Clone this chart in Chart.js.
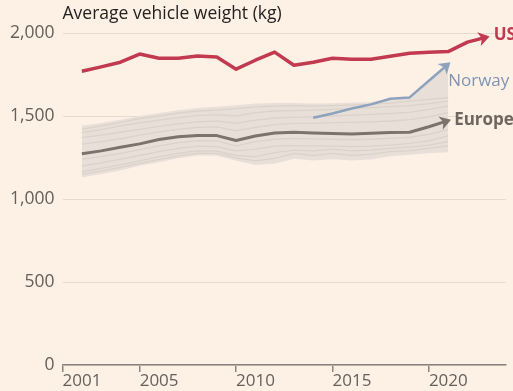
<!DOCTYPE html>
<html>
<head>
<meta charset="utf-8">
<script src="https://cdn.jsdelivr.net/npm/chart.js@4.4.1/dist/chart.umd.min.js"></script>
<style>
  html, body { margin: 0; padding: 0; background: #fdf1e6; }
  canvas { display: block; }
</style>
</head>
<body>
<canvas id="weightChart" width="513" height="391"></canvas>
<script>
// average vehicle weight, kg
const usYears = [2002, 2003, 2004, 2005, 2006, 2007, 2008, 2009, 2010, 2011, 2012,
                 2013, 2014, 2015, 2016, 2017, 2018, 2019, 2020, 2021, 2022, 2023];
const usWeight = [1770, 1796, 1824, 1873, 1848, 1848, 1861, 1855, 1782, 1836, 1885,
                  1806, 1824, 1848, 1842, 1842, 1860, 1878, 1884, 1888, 1945, 1975];

const euYears = [2002, 2003, 2004, 2005, 2006, 2007, 2008, 2009, 2010, 2011,
                 2012, 2013, 2014, 2015, 2016, 2017, 2018, 2019, 2020, 2021];
const europeWeight = [1272, 1290, 1312, 1332, 1358, 1375, 1382, 1382, 1352, 1380,
                      1398, 1402, 1397, 1394, 1392, 1396, 1400, 1402, 1435, 1472];

const norwayYears = [2014, 2015, 2016, 2017, 2018, 2019, 2020, 2021];
const norwayWeight = [1489, 1515, 1545, 1570, 1604, 1612, 1712, 1812];

// spread of individual European countries
const bandHigh = [1442, 1458, 1478, 1500, 1518, 1535, 1548, 1555, 1565, 1575,
                  1578, 1578, 1576, 1577, 1580, 1584, 1604, 1614, 1712, 1812];
const bandLow = [1129, 1150, 1172, 1200, 1222, 1245, 1262, 1260, 1230, 1205,
                 1212, 1242, 1232, 1240, 1232, 1238, 1258, 1266, 1275, 1281];
const countryLines = [
  [1420, 1440, 1462, 1485, 1500, 1518, 1530, 1535, 1545, 1555, 1560, 1562, 1560, 1562, 1566, 1570, 1578, 1590, 1600, 1610],
  [1400, 1418, 1440, 1458, 1475, 1490, 1502, 1508, 1500, 1520, 1530, 1532, 1535, 1540, 1545, 1550, 1556, 1562, 1575, 1590],
  [1370, 1385, 1402, 1420, 1438, 1452, 1465, 1470, 1455, 1475, 1488, 1492, 1495, 1500, 1505, 1510, 1515, 1522, 1540, 1560],
  [1330, 1345, 1362, 1385, 1405, 1420, 1432, 1435, 1410, 1432, 1448, 1455, 1455, 1460, 1462, 1465, 1470, 1478, 1495, 1520],
  [1240, 1255, 1275, 1298, 1320, 1340, 1352, 1350, 1320, 1345, 1360, 1365, 1362, 1360, 1358, 1360, 1365, 1372, 1390, 1420],
  [1200, 1218, 1240, 1262, 1285, 1305, 1318, 1315, 1290, 1300, 1318, 1322, 1320, 1318, 1315, 1318, 1325, 1335, 1350, 1380],
  [1165, 1185, 1205, 1230, 1255, 1275, 1290, 1288, 1262, 1255, 1280, 1295, 1290, 1300, 1290, 1295, 1305, 1312, 1325, 1345],
  [1150, 1168, 1190, 1215, 1238, 1260, 1275, 1275, 1248, 1230, 1245, 1275, 1262, 1275, 1262, 1270, 1285, 1292, 1305, 1320]
];

const yearTicks = [2001, 2005, 2010, 2015, 2020];
const weightTicks = [0, 500, 1000, 1500, 2000];

const FONT = '"Open Sans", sans-serif';

function pairs(xs, ys) {
  return ys.map((v, i) => ({ x: xs[i], y: v }));
}

const datasets = [
  { data: pairs(usYears, usWeight), borderColor: '#c23a4f', borderWidth: 3.5, order: 0,
    endLabel: 'US' },
  { data: pairs(norwayYears, norwayWeight), borderColor: '#8ea2bd', borderWidth: 2.5, order: 1,
    endLabel: 'Norway' },
  { data: pairs(euYears, europeWeight), borderColor: '#7c736c', borderWidth: 3, order: 2,
    endLabel: 'Europe' },
  { data: pairs(euYears, bandLow), borderColor: 'rgba(0,0,0,0)', borderWidth: 0, order: 10 },
  { data: pairs(euYears, bandHigh), borderColor: 'rgba(0,0,0,0)', borderWidth: 0, order: 10,
    fill: '-1', backgroundColor: '#e8e0d8' }
];
countryLines.forEach(vals => {
  datasets.push({ data: pairs(euYears, vals), borderColor: '#dbd2ca', borderWidth: 1.3, order: 5 });
});

// arrow heads, end labels and the heading
const labelStyle = {
  US:     { color: '#c23a4f', weight: '700', dx: 7,  dy: -2 },
  Norway: { color: '#8094b3', weight: '400', dx: 0,  dy: 17 },
  Europe: { color: '#6f665f', weight: '700', dx: 6,  dy: 0 }
};

const annotate = {
  id: 'annotate',
  afterDatasetsDraw(chart) {
    const ctx = chart.ctx;
    chart.data.datasets.forEach((ds, i) => {
      if (!ds.endLabel) return;
      const pts = chart.getDatasetMeta(i).data;
      const a = pts[pts.length - 2], b = pts[pts.length - 1];
      const ang = Math.atan2(b.y - a.y, b.x - a.x);
      ctx.save();
      ctx.translate(b.x, b.y);
      ctx.rotate(ang);
      ctx.fillStyle = ds.borderColor;
      ctx.beginPath();
      ctx.moveTo(3, 0);
      ctx.lineTo(-8, -7);
      ctx.lineTo(-5, 0);
      ctx.lineTo(-8, 7);
      ctx.closePath();
      ctx.fill();
      ctx.restore();

      const st = labelStyle[ds.endLabel];
      ctx.save();
      ctx.font = st.weight + ' 17px ' + FONT;
      ctx.fillStyle = st.color;
      ctx.textAlign = 'left';
      ctx.textBaseline = 'middle';
      ctx.fillText(ds.endLabel, b.x + st.dx, b.y + st.dy);
      ctx.restore();
    });

    ctx.save();
    ctx.font = '500 17.5px ' + FONT;
    ctx.fillStyle = '#24211f';
    ctx.textAlign = 'left';
    ctx.textBaseline = 'middle';
    ctx.fillText('Average vehicle weight (kg)', chart.chartArea.left, 14);
    ctx.restore();
  }
};

new Chart(document.getElementById('weightChart'), {
  type: 'line',
  data: { datasets },
  plugins: [annotate],
  options: {
    responsive: false,
    devicePixelRatio: 1,
    animation: false,
    layout: { padding: { top: 33, left: 2, right: 7, bottom: 0 } },
    elements: {
      line: { tension: 0, borderCapStyle: 'butt', borderJoinStyle: 'round' },
      point: { radius: 0, hoverRadius: 0 }
    },
    plugins: {
      legend: { display: false },
      tooltip: { enabled: false },
      title: { display: false }
    },
    scales: {
      x: {
        type: 'linear',
        min: 2001,
        max: 2024,
        afterBuildTicks: axis => { axis.ticks = yearTicks.map(v => ({ value: v })); },
        grid: { drawOnChartArea: false, drawTicks: true, tickLength: 7, color: '#8c837c', lineWidth: 1.5 },
        border: { display: true, color: '#8c837c', width: 1.5 },
        ticks: {
          align: 'start',
          padding: 1,
          color: '#66605b',
          font: { family: FONT, size: 17, lineHeight: 1 },
          maxRotation: 0,
          callback: v => String(v)
        }
      },
      y: {
        min: 0,
        max: 2000,
        afterBuildTicks: axis => { axis.ticks = weightTicks.map(v => ({ value: v })); },
        grid: { color: '#e4dad0', lineWidth: 1, drawTicks: false },
        border: { display: false },
        ticks: {
          padding: 8,
          color: '#66605b',
          font: { family: FONT, size: 17.5 },
          callback: v => v.toLocaleString('en-US')
        }
      }
    }
  }
});
</script>
</body>
</html>
